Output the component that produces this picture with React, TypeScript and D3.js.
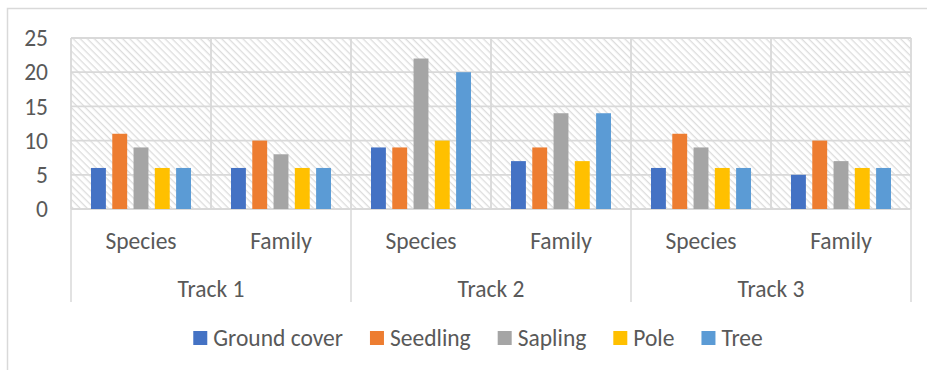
import React, { useEffect, useRef } from "react";
import * as d3 from "d3";

// Chart values
const tracks = ["Track 1", "Track 2", "Track 3"];
const levels = ["Species", "Family"];
const seriesNames = ["Ground cover", "Seedling", "Sapling", "Pole", "Tree"];
const seriesColors = ["#4472C4", "#ED7D31", "#A5A5A5", "#FFC000", "#5B9BD5"];
// one row per (track, level), one value per series
const groundCover = [6, 6, 9, 7, 6, 5];
const seedling = [11, 10, 9, 9, 11, 10];
const sapling = [9, 8, 22, 14, 9, 7];
const pole = [6, 6, 10, 7, 6, 6];
const tree = [6, 6, 20, 14, 6, 6];
const yTicks = [0, 5, 10, 15, 20, 25];

const W = 927;
const H = 370;
const FONT = "Carlito, Calibri, Lato, 'Liberation Sans', sans-serif";
const FS = 23.5;
const TEXT = "#595959";
const GRID = "#D9D9D9";

export default function App() {
  const ref = useRef<SVGSVGElement>(null);

  useEffect(() => {
    const svg = d3.select(ref.current);
    svg.selectAll("*").remove();

    const plot = { left: 71, right: 911, top: 38, bottom: 209 };
    const allSeries = [groundCover, seedling, sapling, pole, tree];
    const cats = tracks.flatMap((t) => levels.map((l) => `${t}|${l}`));

    const x = d3.scaleBand<string>().domain(cats).range([plot.left, plot.right]).padding(0);
    const xTrack = d3.scaleBand<string>().domain(tracks).range([plot.left, plot.right]).padding(0);
    const bw = x.bandwidth();
    const xInner = d3
      .scaleBand<string>()
      .domain(seriesNames)
      .range([bw * (20 / 140), bw * (120 / 140)])
      .paddingInner(0.3);
    const y = d3.scaleLinear().domain([0, 25]).range([plot.bottom, plot.top]);

    // hatched plot background
    const defs = svg.append("defs");
    const pat = defs
      .append("pattern")
      .attr("id", "hatch")
      .attr("patternUnits", "userSpaceOnUse")
      .attr("width", 5)
      .attr("height", 5)
      .attr("patternTransform", "rotate(45)");
    pat.append("rect").attr("width", 5).attr("height", 5).attr("fill", "#fff");
    pat
      .append("line")
      .attr("x1", 0)
      .attr("y1", 0)
      .attr("x2", 5)
      .attr("y2", 0)
      .attr("stroke", "#DDDDDD")
      .attr("stroke-width", 2.6);

    // outer chart border
    svg
      .append("rect")
      .attr("x", 7.5)
      .attr("y", 8.5)
      .attr("width", 942)
      .attr("height", 370)
      .attr("fill", "#fff")
      .attr("stroke", GRID)
      .attr("stroke-width", 1.5);

    svg
      .append("rect")
      .attr("x", plot.left)
      .attr("y", plot.top)
      .attr("width", plot.right - plot.left)
      .attr("height", plot.bottom - plot.top)
      .attr("fill", "url(#hatch)");

    // horizontal gridlines
    svg
      .append("g")
      .selectAll("line")
      .data(yTicks)
      .join("line")
      .attr("x1", plot.left)
      .attr("x2", plot.right)
      .attr("y1", (d) => y(d))
      .attr("y2", (d) => y(d))
      .attr("stroke", GRID)
      .attr("stroke-width", 1.8);

    // vertical gridlines at category boundaries
    const bounds = cats.map((c) => x(c)!).concat([plot.right]);
    svg
      .append("g")
      .selectAll("line")
      .data(bounds)
      .join("line")
      .attr("x1", (d) => d)
      .attr("x2", (d) => d)
      .attr("y1", plot.top)
      .attr("y2", plot.bottom)
      .attr("stroke", GRID)
      .attr("stroke-width", 1.8);

    // track separators under the axis
    const trackBounds = tracks.map((t) => xTrack(t)!).concat([plot.right]);
    svg
      .append("g")
      .selectAll("line")
      .data(trackBounds)
      .join("line")
      .attr("x1", (d) => d)
      .attr("x2", (d) => d)
      .attr("y1", plot.bottom)
      .attr("y2", 302)
      .attr("stroke", GRID)
      .attr("stroke-width", 1.5);

    // bars
    const rows = cats.map((c, i) => ({ cat: c, values: allSeries.map((s) => s[i]) }));
    const g = svg
      .append("g")
      .selectAll("g")
      .data(rows)
      .join("g")
      .attr("transform", (d) => `translate(${x(d.cat)},0)`);
    g.selectAll("rect")
      .data((d) => d.values.map((v, k) => ({ v, k })))
      .join("rect")
      .attr("x", (d) => xInner(seriesNames[d.k])!)
      .attr("width", xInner.bandwidth())
      .attr("y", (d) => y(d.v))
      .attr("height", (d) => y(0) - y(d.v))
      .attr("fill", (d) => seriesColors[d.k]);

    const label = (sel: d3.Selection<any, any, any, any>) =>
      sel
        .attr("dy", "0.35em")
        .attr("font-family", FONT)
        .attr("font-size", FS)
        .attr("fill", TEXT);

    // y tick labels
    svg
      .append("g")
      .selectAll("text")
      .data(yTicks)
      .join("text")
      .attr("x", 48)
      .attr("y", (d) => y(d))
      .attr("text-anchor", "end")
      .call(label)
      .text((d) => d);

    // category labels
    svg
      .append("g")
      .selectAll("text")
      .data(cats)
      .join("text")
      .attr("x", (d) => x(d)! + bw / 2)
      .attr("y", 241)
      .attr("text-anchor", "middle")
      .call(label)
      .text((d) => d.split("|")[1]);

    svg
      .append("g")
      .selectAll("text")
      .data(tracks)
      .join("text")
      .attr("x", (d) => xTrack(d)! + xTrack.bandwidth() / 2)
      .attr("y", 289)
      .attr("text-anchor", "middle")
      .call(label)
      .text((d) => d);

    // legend, centred under the chart
    const leg = svg.append("g");
    const sq = 14;
    const gapText = 6;
    const gapItem = 27;
    const items = seriesNames.map((name, i) => {
      const gi = leg.append("g");
      gi.append("rect").attr("width", sq).attr("height", sq).attr("y", -sq / 2).attr("fill", seriesColors[i]);
      const t = gi.append("text").attr("x", sq + gapText).call(label).text(name);
      const w = (t.node() as SVGTextElement).getComputedTextLength();
      return { gi, w: sq + gapText + w };
    });
    const total = d3.sum(items, (d) => d.w) + gapItem * (items.length - 1);
    let cx = 478 - total / 2;
    items.forEach((it) => {
      it.gi.attr("transform", `translate(${cx},338)`);
      cx += it.w + gapItem;
    });
  }, []);

  return (
    <svg
      ref={ref}
      width={W}
      height={H}
      style={{ position: "absolute", left: 0, top: 0, display: "block" }}
    />
  );
}
